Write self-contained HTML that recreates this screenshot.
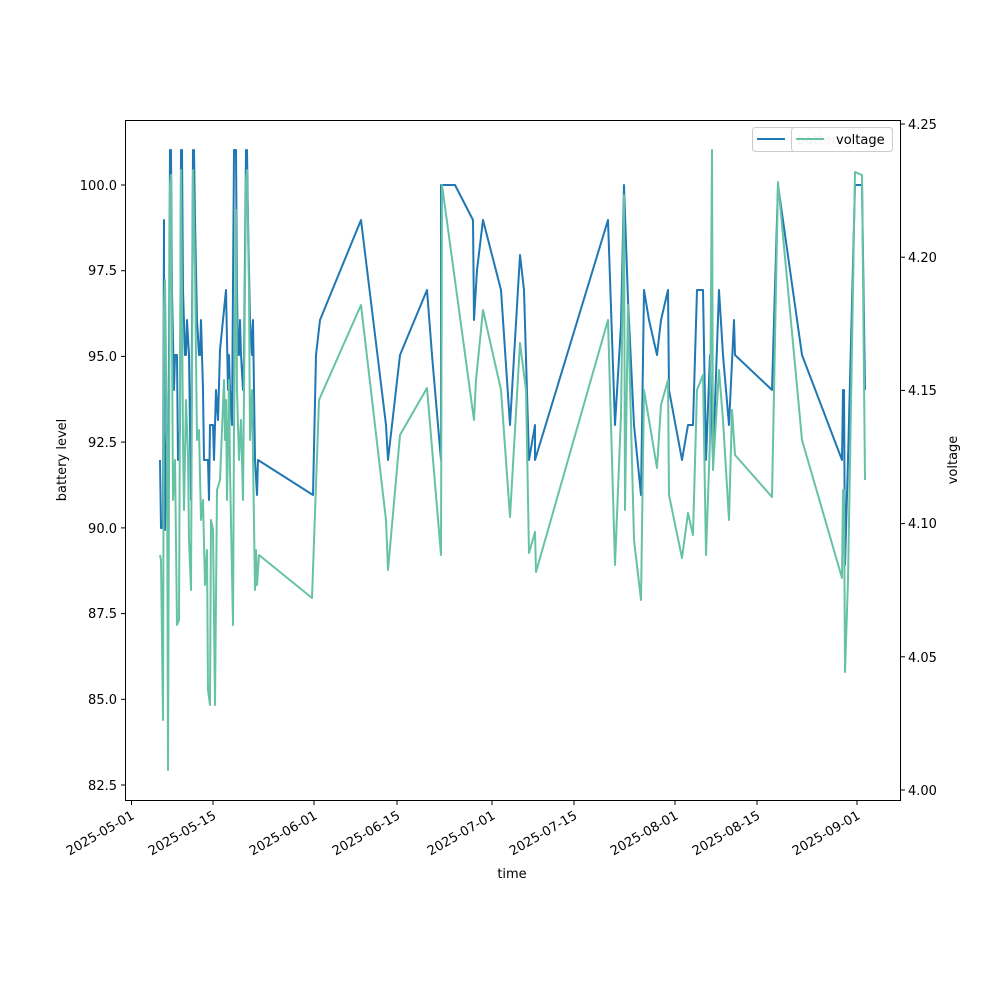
<!DOCTYPE html>
<html><head><style>body{margin:0;background:#fff}svg{display:block;font-family:"DejaVu Sans","Liberation Sans",sans-serif}</style></head><body>
<svg width="1000" height="1000" viewBox="0 0 1000 1000" xmlns="http://www.w3.org/2000/svg">
<rect width="1000" height="1000" fill="#fff"/>
<g fill="none" stroke-linejoin="round" stroke-width="2">
<polyline stroke="#1f77b4" points="160,460 161,528 163,528 164,220 164,310 165,530 167,425 168,560 170,150 171,150 172,290 174,390 175,355 177,355 178,460 180,430 181,150 182,150 183,290 185,355 186,355 187,320 189,355 191,500 193,150 194,150 195,220 197,320 199,355 200,355 201,320 203,390 204,460 206,460 208,460 209,500 210,425 213,425 214,460 216,390 218,420 220,350 223,320 226,290 228,390 229,355 230,390 232,425 234,150 236,150 237,290 238,355 239,355 240,320 241,355 243,390 244,355 246,150 247,150 248,220 250,320 252,355 253,320 255,460 257,495 258,460 313,495 316,355 320,320 361,220 386,425 388,460 400,355 427,290 432,355 441,460 441,185 455,185 473,220 474,320 477,270 483,220 501,290 510,425 520,255 524,290 529,460 535,425 535,460 608,220 615,425 621,325 624,185 628,300 634,425 641,495 644,290 649,320 657,355 661,320 668,290 669,390 682,460 688,425 693,425 697,290 703,290 706,460 710,355 713,460 719,290 723,355 729,425 734,320 735,355 772,390 778,185 802,355 842,460 843,390 844,390 845,565 848,460 855,185 862,185 865,390"/>
<polyline stroke="#66c2a5" points="160,555 161,560 163,720 164,310 165,280 167,440 168,770 170,185 171,175 173,500 175,460 177,625 179,620 181,170 183,440 184,510 186,400 188,455 189,540 191,590 193,170 195,270 197,440 199,430 201,520 203,500 205,585 207,550 208,690 210,705 211,520 213,530 215,705 217,490 220,480 224,380 225,440 226,400 227,500 229,380 230,470 233,625 234,430 236,210 237,390 239,460 241,420 243,500 246,180 247,170 249,290 250,440 252,390 255,590 256,550 257,585 259,555 312,598 319,400 361,305 386,520 388,570 400,435 427,388 441,555 442,185 474,420 476,380 483,310 501,390 510,517 520,343 526,390 529,553 535,532 536,572 608,320 615,565 621,415 624,195 625,510 628,305 634,540 641,600 644,390 657,468 661,405 668,380 669,495 682,558 688,513 693,535 697,390 703,375 706,555 710,440 712,150 713,470 719,370 723,420 729,520 732,410 735,455 772,497 778,182 802,440 842,578 843,490 844,490 845,672 848,580 855,172 862,175 865,480"/>
</g>
<rect x="125.5" y="120.5" width="775" height="680" fill="none" stroke="#000" stroke-width="1"/>
<g stroke="#000" stroke-width="1">
<line x1="121" x2="125" y1="785" y2="785"/><line x1="121" x2="125" y1="699.3" y2="699.3"/><line x1="121" x2="125" y1="613.6" y2="613.6"/><line x1="121" x2="125" y1="527.9" y2="527.9"/><line x1="121" x2="125" y1="442.1" y2="442.1"/><line x1="121" x2="125" y1="356.4" y2="356.4"/><line x1="121" x2="125" y1="270.7" y2="270.7"/><line x1="121" x2="125" y1="185" y2="185"/>
<line x1="901" x2="905" y1="790" y2="790"/><line x1="901" x2="905" y1="656.8" y2="656.8"/><line x1="901" x2="905" y1="523.6" y2="523.6"/><line x1="901" x2="905" y1="390.4" y2="390.4"/><line x1="901" x2="905" y1="257.2" y2="257.2"/><line x1="901" x2="905" y1="124" y2="124"/>
<line y1="801" y2="805" x1="131.5" x2="131.5"/><line y1="801" y2="805" x1="213" x2="213"/><line y1="801" y2="805" x1="314" x2="314"/><line y1="801" y2="805" x1="397" x2="397"/><line y1="801" y2="805" x1="492" x2="492"/><line y1="801" y2="805" x1="574" x2="574"/><line y1="801" y2="805" x1="675" x2="675"/><line y1="801" y2="805" x1="757" x2="757"/><line y1="801" y2="805" x1="857" x2="857"/>
</g>
<g font-size="13" fill="#000" text-anchor="end">
<text x="117" y="790">82.5</text><text x="117" y="704">85.0</text><text x="117" y="618">87.5</text><text x="117" y="533">90.0</text><text x="117" y="447">92.5</text><text x="117" y="361">95.0</text><text x="117" y="275">97.5</text><text x="117" y="190">100.0</text>
</g>
<g font-size="13" fill="#000">
<text x="908" y="795">4.00</text><text x="908" y="662">4.05</text><text x="908" y="528">4.10</text><text x="908" y="395">4.15</text><text x="908" y="262">4.20</text><text x="908" y="129">4.25</text>
</g>
<g font-size="13" fill="#000" text-anchor="end">
<text transform="translate(135,818) rotate(-30)">2025-05-01</text>
<text transform="translate(217,818) rotate(-30)">2025-05-15</text>
<text transform="translate(318,818) rotate(-30)">2025-06-01</text>
<text transform="translate(401,818) rotate(-30)">2025-06-15</text>
<text transform="translate(496,818) rotate(-30)">2025-07-01</text>
<text transform="translate(578,818) rotate(-30)">2025-07-15</text>
<text transform="translate(679,818) rotate(-30)">2025-08-01</text>
<text transform="translate(761,818) rotate(-30)">2025-08-15</text>
<text transform="translate(861,818) rotate(-30)">2025-09-01</text>
</g>
<text x="512" y="878" font-size="13" text-anchor="middle">time</text>
<text transform="translate(66,460) rotate(-90)" font-size="13" text-anchor="middle">battery level</text>
<text transform="translate(957,460) rotate(-90)" font-size="13" text-anchor="middle">voltage</text>
<rect x="752.5" y="127.5" width="140" height="24" rx="3" fill="#fff" stroke="#ccc"/>
<line x1="757" x2="785" y1="139" y2="139" stroke="#1f77b4" stroke-width="2"/>
<text x="797" y="144" font-size="13" fill="#bbb">battery_level</text>
<rect x="791.5" y="127.5" width="101" height="24" rx="3" fill="#fff" fill-opacity="0.8" stroke="#ccc"/>
<line x1="796" x2="824" y1="139" y2="139" stroke="#66c2a5" stroke-width="2"/>
<text x="836" y="144" font-size="13" fill="#000">voltage</text>
</svg>
</body></html>
